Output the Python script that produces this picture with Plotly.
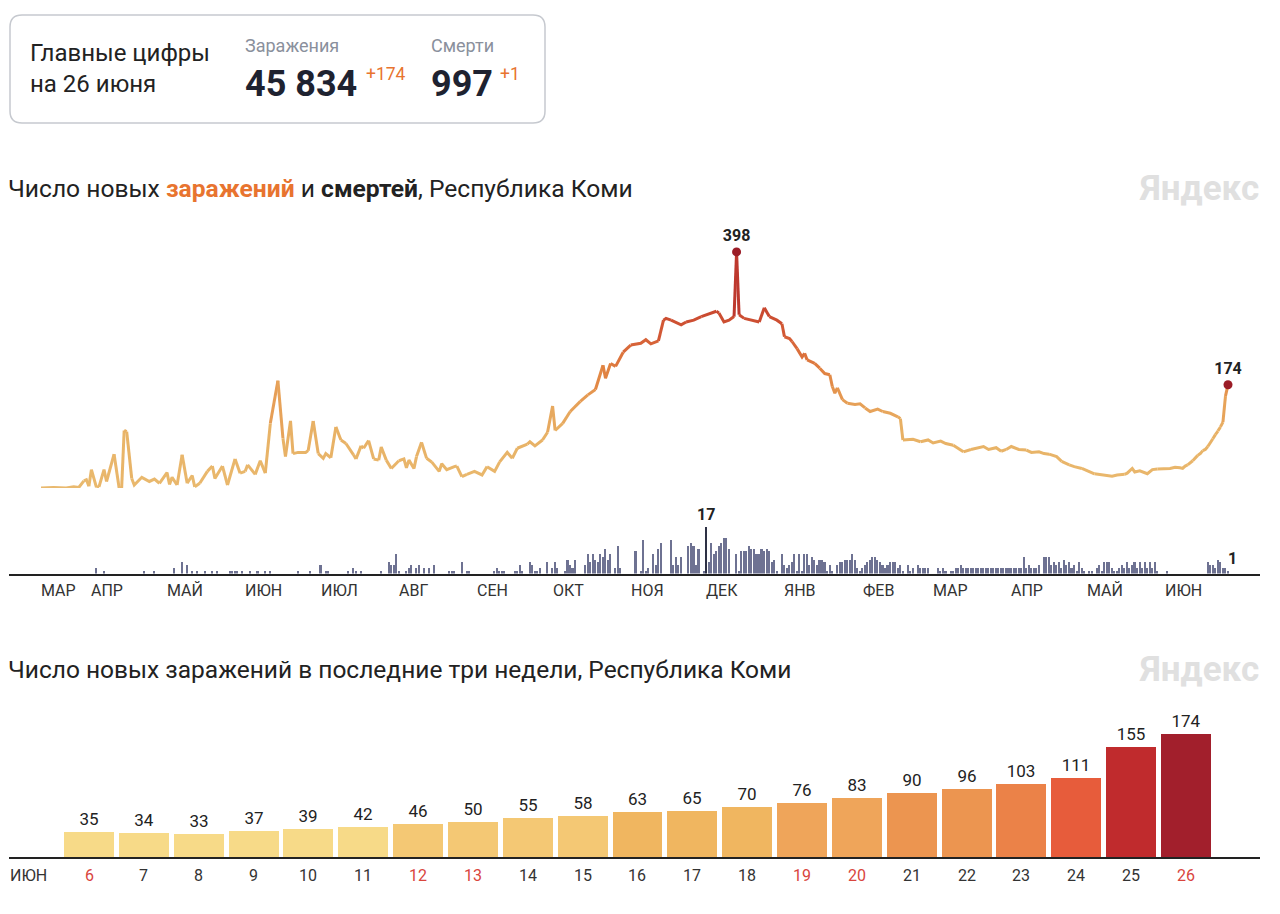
import plotly.graph_objects as go
import pandas as pd

# ---------------- data ----------------
START = "2020-03-12"  # first day of the series (day offset 0)

# new cases: day offset from START -> value
line_days = [0, 5, 10, 13, 15, 17, 18, 19, 20, 22, 23, 25, 26, 29, 31, 32, 33, 34, 36, 37,
             40, 43, 45, 47, 50, 51, 52, 54, 56, 58, 60, 61, 63, 66, 68, 69, 72, 74, 77, 79,
             81, 82, 85, 87, 89, 91, 94, 96, 97, 99, 100, 102, 105, 106, 108, 110, 112, 113, 115, 117,
             119, 121, 124, 125, 127, 128, 130, 132, 134, 135, 137, 139, 142, 144, 145, 146, 148, 149, 151, 153,
             155, 158, 159, 161, 164, 165, 167, 169, 172, 175, 177, 180, 182, 185, 187, 189, 193, 194, 196, 199,
             201, 203, 204, 207, 210, 214, 217, 220, 223, 224, 226, 228, 231, 234, 238, 240, 242, 245, 247, 248,
             250, 254, 256, 259, 262, 264, 268, 269, 271, 273, 275, 276, 277, 279, 282, 285, 287, 289, 292, 294,
             295, 297, 298, 300, 302, 303, 304, 307, 309, 311, 313, 314, 315, 316, 318, 320, 323, 325, 327, 329,
             332, 334, 337, 340, 341, 342, 344, 346, 349, 352, 354, 357, 359, 362, 364, 366, 369, 371, 374, 376,
             379, 381, 383, 385, 388, 391, 393, 396, 398, 400, 403, 405, 408, 410, 413, 415, 418, 420, 422, 425,
             427, 430, 431, 433, 434, 436, 439, 441, 443, 446, 448, 450]
line_values = [0, 1, 0, 2, 1, 12, 14, 3, 31, 1, 2, 31, 11, 57, 0, 0, 97, 95, 16, 5,
               18, 11, 15, 8, 26, 6, 18, 5, 56, 8, 21, 2, 8, 28, 37, 16, 37, 5, 49, 25,
               28, 39, 23, 46, 25, 109, 181, 84, 53, 113, 58, 60, 60, 63, 113, 58, 50, 58, 51, 103,
               81, 75, 56, 49, 71, 67, 80, 49, 47, 69, 47, 33, 46, 49, 34, 47, 33, 53, 77, 50,
               44, 28, 41, 31, 36, 37, 19, 23, 28, 22, 36, 28, 44, 60, 50, 67, 74, 78, 71, 81,
               94, 138, 97, 109, 129, 146, 157, 166, 207, 185, 210, 205, 229, 241, 244, 250, 243, 248, 283, 286,
               283, 275, 280, 283, 289, 292, 298, 295, 280, 283, 289, 398, 292, 286, 283, 280, 304, 289, 283, 277,
               255, 252, 247, 235, 221, 227, 216, 210, 202, 193, 191, 171, 160, 169, 149, 143, 141, 142, 135, 129,
               133, 129, 126, 120, 117, 81, 81, 82, 78, 81, 76, 79, 75, 72, 67, 61, 65, 67, 70, 65,
               68, 62, 65, 70, 65, 64, 60, 61, 58, 57, 53, 45, 39, 36, 33, 29, 24, 23, 21, 20,
               22, 23, 25, 33, 27, 29, 24, 31, 32, 33, 33, 35]

# last three weeks (June 2021)
recent_days = [6, 7, 8, 9, 10, 11, 12, 13, 14, 15, 16, 17, 18, 19, 20, 21, 22, 23, 24, 25, 26]
recent_cases = [35, 34, 33, 37, 39, 42, 46, 50, 55, 58, 63, 65, 70, 76, 83, 90, 96, 103, 111, 155, 174]
recent_holidays = [6, 12, 13, 19, 20, 26]
recent_month = "2021-06"

# deaths: day offset from START -> value (days not listed: 0)
death_days = [22, 25, 41, 45, 53, 56, 58, 60, 62, 65, 68, 70, 75, 76, 77, 78, 80, 83, 86, 89,
              91, 102, 107, 111, 113, 114, 122, 124, 125, 127, 135, 138, 139, 140, 141, 142, 145, 146, 147, 149,
              150, 152, 154, 156, 162, 163, 164, 167, 169, 170, 180, 181, 182, 183, 184, 188, 189, 190, 191, 194,
              195, 196, 197, 198, 201, 203, 204, 205, 208, 209, 210, 211, 212, 216, 217, 218, 219, 220, 221, 222,
              223, 224, 225, 226, 228, 229, 230, 236, 238, 239, 240, 241, 243, 244, 245, 246, 250, 251, 252, 253,
              254, 257, 258, 259, 260, 261, 263, 264, 265, 266, 267, 268, 269, 270, 271, 272, 273, 276, 277, 278,
              279, 280, 281, 282, 283, 284, 285, 286, 287, 288, 289, 290, 291, 292, 294, 295, 296, 297, 298, 299,
              300, 301, 302, 303, 304, 305, 306, 307, 308, 309, 310, 311, 312, 313, 314, 316, 317, 318, 319, 320,
              321, 322, 323, 324, 325, 326, 327, 328, 329, 330, 331, 332, 333, 334, 335, 336, 337, 338, 339, 340,
              341, 342, 344, 345, 346, 348, 349, 350, 351, 352, 356, 357, 358, 359, 361, 362, 363, 364, 365, 366,
              367, 368, 369, 370, 371, 372, 373, 374, 375, 376, 377, 378, 379, 380, 381, 382, 383, 384, 385, 386,
              387, 388, 389, 390, 391, 392, 393, 394, 395, 396, 398, 399, 400, 401, 402, 403, 404, 405, 406, 407,
              408, 409, 410, 411, 412, 413, 414, 416, 417, 419, 420, 421, 422, 423, 424, 425, 426, 427, 428, 429,
              430, 431, 432, 433, 434, 435, 436, 437, 438, 439, 440, 441, 442, 443, 447, 463, 464, 465, 466, 467,
              468, 469, 470, 471]
death_values = [2, 1, 1, 1, 2, 4, 3, 1, 1, 1, 1, 1, 1, 1, 1, 1, 1, 1, 1, 1,
                1, 1, 1, 3, 1, 1, 1, 2, 1, 1, 1, 4, 3, 3, 7, 1, 1, 2, 3, 2,
                3, 2, 2, 3, 1, 1, 1, 4, 1, 1, 1, 2, 1, 1, 1, 1, 1, 3, 1, 4,
                3, 1, 1, 2, 4, 2, 4, 2, 1, 5, 3, 2, 5, 3, 7, 4, 7, 5, 4, 7,
                6, 9, 5, 7, 2, 10, 2, 8, 1, 12, 1, 2, 7, 3, 9, 11, 12, 3, 6, 3,
                6, 10, 11, 10, 3, 9, 1, 17, 4, 11, 7, 8, 10, 11, 13, 13, 9, 7, 1, 8,
                8, 8, 10, 9, 9, 7, 7, 9, 8, 9, 8, 4, 5, 1, 7, 3, 2, 3, 4, 7,
                1, 7, 1, 7, 7, 3, 6, 5, 3, 5, 5, 4, 1, 3, 1, 3, 4, 4, 5, 5,
                5, 7, 5, 2, 1, 2, 3, 4, 5, 6, 6, 5, 4, 3, 2, 3, 4, 4, 4, 2,
                3, 1, 3, 1, 2, 3, 2, 2, 2, 2, 2, 1, 2, 1, 1, 1, 2, 2, 3, 2,
                2, 2, 2, 2, 2, 2, 2, 2, 2, 2, 2, 2, 2, 2, 2, 2, 2, 2, 2, 2,
                2, 2, 2, 6, 2, 3, 2, 2, 2, 3, 6, 6, 6, 3, 4, 3, 4, 2, 5, 3,
                4, 2, 3, 1, 4, 2, 1, 1, 1, 2, 3, 1, 4, 4, 4, 2, 1, 1, 2, 3,
                2, 4, 2, 3, 4, 2, 4, 2, 4, 2, 4, 2, 4, 1, 1, 4, 3, 3, 2, 5,
                4, 2, 2, 1]

month_labels = ["МАР", "АПР", "МАЙ", "ИЮН", "ИЮЛ", "АВГ", "СЕН", "ОКТ", "НОЯ", "ДЕК",
                "ЯНВ", "ФЕВ", "МАР", "АПР", "МАЙ", "ИЮН"]
month_starts = ["2020-03-01", "2020-04-01", "2020-05-01", "2020-06-01", "2020-07-01", "2020-08-01",
                "2020-09-01", "2020-10-01", "2020-11-01", "2020-12-01", "2021-01-01", "2021-02-01",
                "2021-03-01", "2021-04-01", "2021-05-01", "2021-06-01"]

total_cases = "45 834"
total_cases_delta = "+174"
total_deaths = "997"
total_deaths_delta = "+1"
summary_date = "на 26 июня"

# ---------------- helpers / styles ----------------
W, H = 1280, 914
FONT = "Roboto"
DARK = "#222222"
ORANGE = "#E8742F"

def px(x):
    return x / W

def py(y):
    return 1 - y / H

start = pd.Timestamp(START)
rec_dates = [pd.Timestamp(f"{recent_month}-{d:02d}") for d in recent_days]
xs = [start + pd.Timedelta(days=d) for d in line_days] + rec_dates
ys = line_values + recent_cases
death_dates = [start + pd.Timedelta(days=d) for d in death_days]
end = xs[-1]

STOPS = [(0, (233, 185, 110)), (100, (232, 176, 100)), (150, (230, 156, 84)),
         (200, (224, 128, 64)), (250, (214, 96, 55)), (300, (200, 70, 47)), (400, (176, 40, 44))]

def scale_color(v):
    for (v0, c0), (v1, c1) in zip(STOPS[:-1], STOPS[1:]):
        if v <= v1:
            t = max(0.0, min(1.0, (v - v0) / (v1 - v0)))
            c = [round(c0[k] + (c1[k] - c0[k]) * t) for k in range(3)]
            return "rgb(%d,%d,%d)" % tuple(c)
    return "rgb(%d,%d,%d)" % STOPS[-1][1]

fig = go.Figure()

# ---- line chart with value gradient (split into runs of similar colour)
runs = []
cur = None
for i in range(len(xs) - 1):
    mid = (ys[i] + ys[i + 1]) / 2
    b = int(mid // 8)
    if b != cur:
        runs.append([i])
        cur = b
    else:
        runs[-1].append(i)
for run in runs:
    idx = run + [run[-1] + 1]
    mids = [(ys[i] + ys[i + 1]) / 2 for i in run]
    col = scale_color(sum(mids) / len(mids))
    fig.add_trace(go.Scatter(x=[xs[j] for j in idx], y=[ys[j] for j in idx], mode="lines",
                             line=dict(color=col, width=3), hoverinfo="skip",
                             showlegend=False, xaxis="x", yaxis="y"))

# highlighted points: maximum and last
imax = max(range(len(ys)), key=lambda i: ys[i])
fig.add_trace(go.Scatter(x=[xs[imax], xs[-1]], y=[ys[imax], ys[-1]], mode="markers+text",
                         marker=dict(color="#9B1C26", size=9),
                         text=["<b>%d</b>" % ys[imax], "<b>%d</b>" % ys[-1]],
                         textposition="top center",
                         textfont=dict(family=FONT, size=16, color=DARK),
                         hoverinfo="skip", showlegend=False, xaxis="x", yaxis="y", cliponaxis=False))

# ---- deaths bars
dmax = max(death_values)
bar_cols = ["#2E3145" if v == dmax else "#6E7292" for v in death_values]
fig.add_trace(go.Bar(x=death_dates, y=death_values, marker=dict(color=bar_cols, line=dict(width=0)),
                     width=0.62 * 86400000, hoverinfo="skip", showlegend=False,
                     xaxis="x", yaxis="y2"))

# ---- recent bars
def recent_color(v):
    if v < 45:
        return "#F7DA88"
    if v < 60:
        return "#F4C874"
    if v < 75:
        return "#F0B660"
    if v < 85:
        return "#EFA55A"
    if v < 100:
        return "#EC9550"
    if v < 110:
        return "#EB8248"
    if v < 150:
        return "#E75C3B"
    if v < 170:
        return "#C02B2D"
    return "#A21F2C"

cats = [str(d) for d in recent_days]
fig.add_trace(go.Bar(x=cats, y=recent_cases, marker=dict(color=[recent_color(v) for v in recent_cases],
                                                         line=dict(width=0)),
                     width=0.91, text=[str(v) for v in recent_cases], textposition="outside",
                     textfont=dict(family=FONT, size=17, color=DARK), cliponaxis=False,
                     hoverinfo="skip", showlegend=False, xaxis="x3", yaxis="y3"))

# ---------------- layout ----------------
x_left = start - pd.Timedelta(days=12.7)
x_right = end + pd.Timedelta(days=12.7)

fig.update_layout(
    width=W, height=H, margin=dict(l=0, r=0, t=0, b=0),
    paper_bgcolor="white", plot_bgcolor="rgba(0,0,0,0)",
    font=dict(family=FONT, color=DARK),
    bargap=0, showlegend=False,
    xaxis=dict(type="date", domain=[px(9), px(1260)], range=[x_left, x_right], anchor="y2",
               showline=True, linecolor=DARK, linewidth=2, showgrid=False, zeroline=False,
               showticklabels=False, ticks="", fixedrange=True),
    yaxis=dict(domain=[py(488), py(230)], range=[0, 435], visible=False, fixedrange=True),
    yaxis2=dict(domain=[py(573.5), py(505)], range=[0, 24.8], visible=False, fixedrange=True),
    xaxis3=dict(type="category", categoryorder="array", categoryarray=cats,
                domain=[px(9), px(1260)], range=[-1.459, 21.35], anchor="y3",
                showline=True, linecolor=DARK, linewidth=2, showgrid=False, zeroline=False,
                showticklabels=False, ticks="", fixedrange=True),
    yaxis3=dict(domain=[py(857), py(695)], range=[0, 229], visible=False, fixedrange=True),
)

# summary box
r = 12
x0, x1, y0, y1 = px(10), px(545), py(15), py(123)
rx, ry = r / W, r / H
path = (f"M {x0+rx},{y0} L {x1-rx},{y0} Q {x1},{y0} {x1},{y0-ry} L {x1},{y1+ry} "
        f"Q {x1},{y1} {x1-rx},{y1} L {x0+rx},{y1} Q {x0},{y1} {x0},{y1+ry} L {x0},{y0-ry} "
        f"Q {x0},{y0} {x0+rx},{y0} Z")
fig.add_shape(type="path", path=path, xref="paper", yref="paper",
              line=dict(color="#C6C9CF", width=1.5), fillcolor="rgba(0,0,0,0)")

def ann(text, x, y, size, color=DARK, xanchor="left", yanchor="middle", **kw):
    fig.add_annotation(text=text, x=x, y=y, xref=kw.pop("xref", "paper"), yref=kw.pop("yref", "paper"),
                       showarrow=False, xanchor=xanchor, yanchor=yanchor,
                       font=dict(family=FONT, size=size, color=color), **kw)

ann("Главные цифры", px(28), py(53), 24)
ann(summary_date, px(28), py(84), 24)
ann("Заражения", px(243), py(45), 18, "#8A909C")
ann("<b>%s</b>" % total_cases, px(243), py(84), 36, "#1E2230")
ann(total_cases_delta, px(364), py(74), 17.5, ORANGE)
ann("Смерти", px(429), py(45), 18, "#8A909C")
ann("<b>%s</b>" % total_deaths, px(429), py(84), 36, "#1E2230")
ann(total_deaths_delta, px(498), py(74), 17.5, ORANGE)

# titles
ann("Число новых <b><span style='color:%s'>заражений</span></b> и <b>смертей</b>, Республика Коми" % ORANGE,
    px(6), py(188), 24.6)
ann("Число новых заражений в последние три недели, Республика Коми", px(6), py(669), 24.5)
for yy in (188, 669):
    ann("<b>Яндекс</b>", px(1261), py(yy), 35, "#E0E0E0", xanchor="right")

# month labels (left aligned at month start)
for lab, ms in zip(month_labels, month_starts):
    t = max(pd.Timestamp(ms), start)
    fig.add_annotation(text=lab, x=t, y=py(590), xref="x", yref="paper", showarrow=False,
                       xanchor="left", yanchor="middle", xshift=-2,
                       font=dict(family=FONT, size=16, color="#333333"))

# death labels: maximum and last
idmax = death_values.index(dmax)
for xi, yi in ((death_dates[idmax], dmax), (death_dates[-1], death_values[-1])):
    fig.add_annotation(text="<b>%d</b>" % yi, x=xi, y=yi, xref="x", yref="y2", showarrow=False,
                       xanchor="center" if yi == dmax else "left", yanchor="bottom", yshift=1,
                       xshift=0 if yi == dmax else -2,
                       font=dict(family=FONT, size=16, color=DARK))

# recent day labels (x = category position)
ann("ИЮН", px(8), py(875), 16, "#333333")
for i, (d, c) in enumerate(zip(recent_days, cats)):
    col = "#D9453D" if d in recent_holidays else "#333333"
    fig.add_annotation(text=c, x=i, y=py(875), xref="x3", yref="paper", showarrow=False,
                       xanchor="center", yanchor="middle", font=dict(family=FONT, size=16, color=col))

fig.write_html("out.html", post_script="document.body.style.margin='0';",
               config={"displayModeBar": False})
